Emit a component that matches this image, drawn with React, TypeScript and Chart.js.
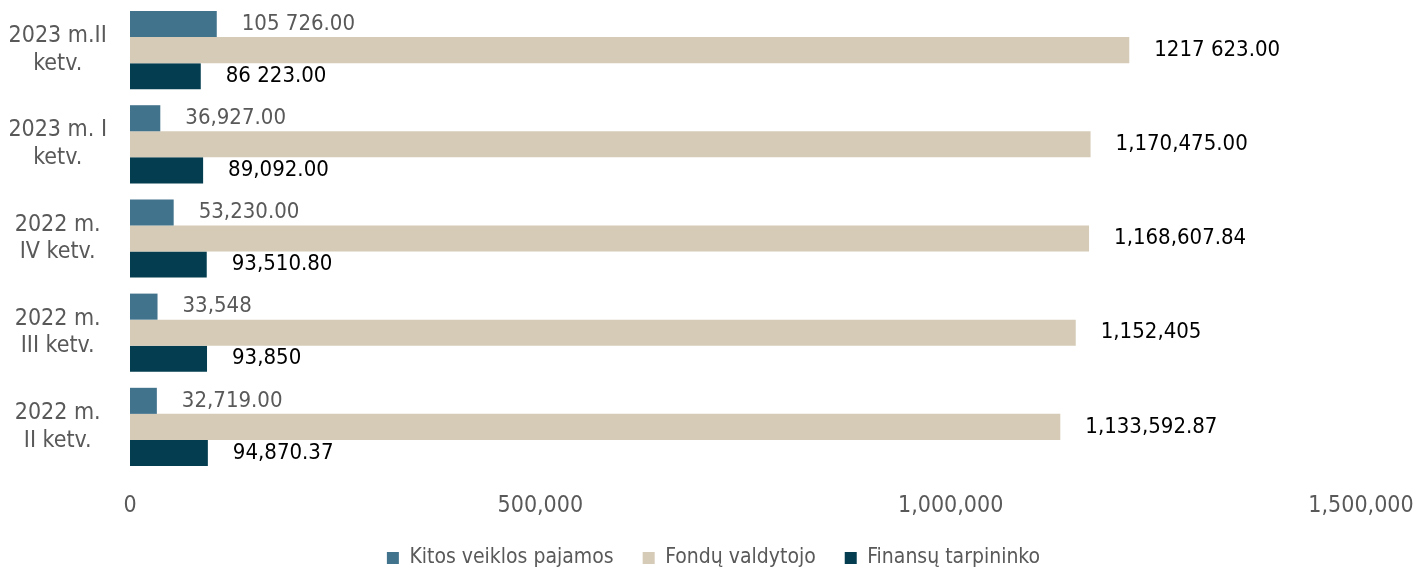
import React, { useEffect, useRef } from "react";
import { Chart, registerables } from "chart.js";

Chart.register(...registerables);

const categories: string[][] = [
  ["2023 m.II", "ketv."],
  ["2023 m. I", "ketv."],
  ["2022 m.", "IV ketv."],
  ["2022 m.", "III ketv."],
  ["2022 m.", "II ketv."],
];

const seriesNames = ["Kitos veiklos pajamos", "Fondų valdytojo", "Finansų tarpininko"];

const kitos = [105726, 36927, 53230, 33548, 32719];
const fondu = [1217623, 1170475, 1168607.84, 1152405, 1133592.87];
const finans = [86223, 89092, 93510.8, 93850, 94870.37];

const kitosLabels = ["105 726.00", "36,927.00", "53,230.00", "33,548", "32,719.00"];
const fonduLabels = ["1217 623.00", "1,170,475.00", "1,168,607.84", "1,152,405", "1,133,592.87"];
const finansLabels = ["86 223.00", "89,092.00", "93,510.80", "93,850", "94,870.37"];

const xTicks = [0, 500000, 1000000, 1500000];

const colors = ["#42738C", "#D6CBB6", "#033D4F"];
const labelColors = ["#595959", "#000000", "#000000"];
const FONT = "'DejaVu Sans Condensed', 'DejaVu Sans', sans-serif";

const valueLabelPlugin = {
  id: "valueLabels",
  afterDatasetsDraw(chart: any) {
    const ctx = chart.ctx;
    const all = [kitosLabels, fonduLabels, finansLabels];
    ctx.save();
    ctx.font = `22px ${FONT}`;
    ctx.textAlign = "left";
    ctx.textBaseline = "middle";
    chart.data.datasets.forEach((_ds: any, di: number) => {
      const meta = chart.getDatasetMeta(di);
      ctx.fillStyle = labelColors[di];
      meta.data.forEach((bar: any, i: number) => {
        ctx.fillText(all[di][i], bar.x + 25, bar.y);
      });
    });
    ctx.restore();
  },
};

const legendPlacePlugin = {
  id: "legendPlace",
  beforeLayout(chart: any) {
    const lg = chart.legend;
    if (lg && !lg._patchedFit) {
      const orig = lg.fit.bind(lg);
      lg.fit = function () {
        orig();
        this.height = 45;
      };
      lg._patchedFit = true;
    }
  },
  afterLayout(chart: any) {
    const lg = chart.legend;
    if (lg) {
      lg.top -= 3.5;
      lg.bottom = chart.height;
      lg.left = 0;
      lg.right = chart.width;
      lg.width = chart.width;
      lg.height = lg.bottom - lg.top;
    }
  },
};

export default function App() {
  const ref = useRef<HTMLCanvasElement>(null);
  useEffect(() => {
    document.body.style.margin = "0";
    const chart = new Chart(ref.current!, {
      type: "bar",
      data: {
        labels: categories,
        datasets: [
          { label: seriesNames[0], data: kitos, backgroundColor: colors[0] },
          { label: seriesNames[1], data: fondu, backgroundColor: colors[1] },
          { label: seriesNames[2], data: finans, backgroundColor: colors[2] },
        ],
      },
      options: {
        indexAxis: "y",
        animation: false,
        responsive: false,
        maintainAspectRatio: false,
        layout: { padding: { top: 3, right: 66, left: 0, bottom: 0 } },
        datasets: { bar: { categoryPercentage: 0.83, barPercentage: 1 } },
        scales: {
          x: {
            min: 0,
            max: 1500000,
            grid: { display: false },
            border: { display: false },
            afterBuildTicks: (scale: any) => {
              scale.ticks = xTicks.map((v) => ({ value: v }));
            },
            afterFit: (scale: any) => {
              scale.height = 48;
              scale.paddingLeft = 0;
              scale.paddingRight = 0;
            },
            ticks: {
              padding: 10,
              color: "#595959",
              font: { family: FONT, size: 23, lineHeight: 1.2 },
              maxRotation: 0,
              callback: (v: any) => Number(v).toLocaleString("en-US"),
            },
          },
          y: {
            grid: { display: false },
            border: { display: false },
            afterFit: (scale: any) => {
              scale.width = 130;
              scale.paddingTop = 0;
              scale.paddingBottom = 0;
            },
            ticks: {
              crossAlign: "center",
              padding: 15,
              color: "#595959",
              font: { family: FONT, size: 23, lineHeight: 1.2 },
            },
          },
        },
        plugins: {
          tooltip: { enabled: false },
          legend: {
            position: "bottom",
            labels: {
              boxWidth: 12,
              boxHeight: 12,
              padding: 29,
              color: "#595959",
              font: { family: FONT, size: 21 },
            },
          },
        },
      },
      plugins: [legendPlacePlugin, valueLabelPlugin],
    } as any);
    return () => chart.destroy();
  }, []);
  return (
    <div style={{ width: 1427, height: 567 }}>
      <canvas ref={ref} width={1427} height={567} style={{ display: "block" }} />
    </div>
  );
}
